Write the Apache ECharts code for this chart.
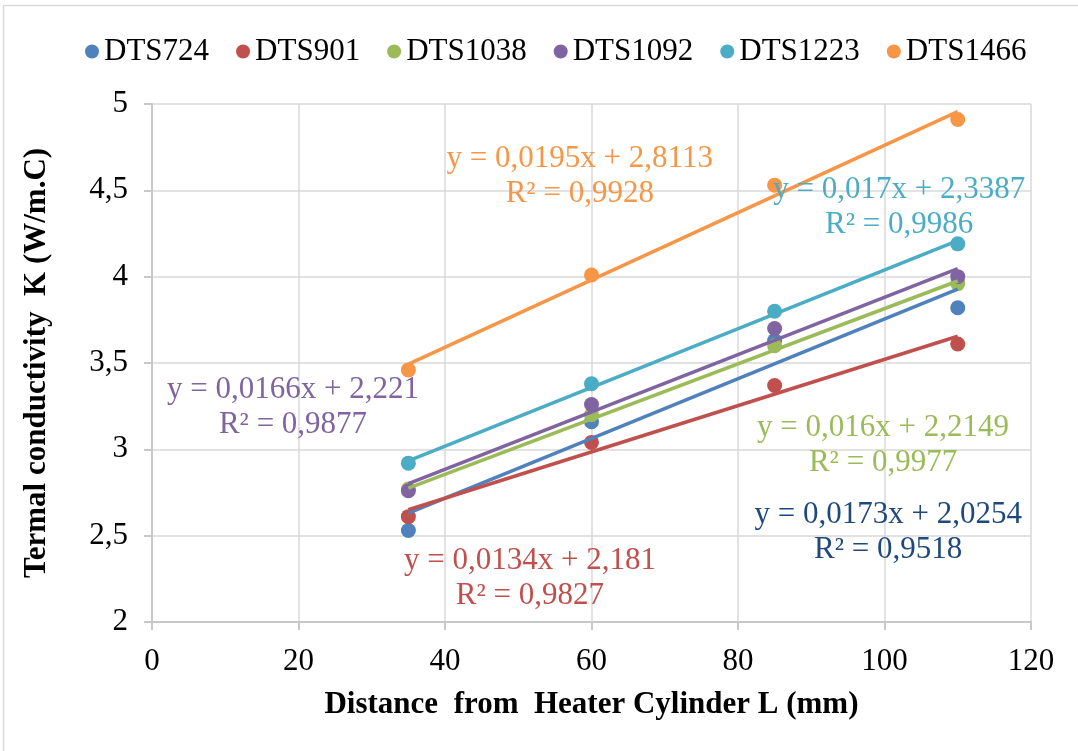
<!DOCTYPE html>
<html>
<head>
<meta charset="utf-8">
<script src="https://cdn.jsdelivr.net/npm/echarts@6/dist/echarts.min.js"></script>
<style>
  html, body { margin: 0; padding: 0; background: #fff; }
  #chart { width: 1078px; height: 751px; }
</style>
</head>
<body>
<div id="chart"></div>
<script>
// distance from heater (mm)
const distances = [35, 60, 85, 110];

const seriesNames = ['DTS724', 'DTS901', 'DTS1038', 'DTS1092', 'DTS1223', 'DTS1466'];
const dts724 = [2.53, 3.16, 3.63, 3.82];
const dts901 = [2.61, 3.04, 3.37, 3.61];
const dts1038 = [2.77, 3.20, 3.60, 3.96];
const dts1092 = [2.76, 3.26, 3.70, 4.00];
const dts1223 = [2.92, 3.38, 3.80, 4.19];
const dts1466 = [3.46, 4.01, 4.53, 4.91];

// linear trendlines as printed on the chart
const slopes = [0.0173, 0.0134, 0.016, 0.0166, 0.017, 0.0195];
const intercepts = [2.0254, 2.181, 2.2149, 2.221, 2.3387, 2.8113];
const eqTexts = [
    'y = 0,0173x + 2,0254', 'y = 0,0134x + 2,181', 'y = 0,016x + 2,2149',
    'y = 0,0166x + 2,221', 'y = 0,017x + 2,3387', 'y = 0,0195x + 2,8113'
];
const r2Texts = ['R² = 0,9518', 'R² = 0,9827', 'R² = 0,9977', 'R² = 0,9877', 'R² = 0,9986', 'R² = 0,9928'];
// where each equation block sits, in data units (x, y)
const eqAnchors = [[100.5, 2.518], [51.6, 2.255], [99.8, 3.022], [19.25, 3.245], [102.0, 4.403], [58.4, 4.58]];

const xTicks = [0, 20, 40, 60, 80, 100, 120];
const yTicks = [2, 2.5, 3, 3.5, 4, 4.5, 5];

const colors = ['#4F81BD', '#C0504D', '#9BBB59', '#8064A2', '#4BACC6', '#F79646'];
const labelColors = ['#1F497D', '#C0504D', '#9BBB59', '#8064A2', '#4BACC6', '#F79646'];
const font = 'Liberation Serif';

const allValues = [dts724, dts901, dts1038, dts1092, dts1223, dts1466];

let series = [];
allValues.forEach((vals, i) => {
    series.push({
        name: seriesNames[i],
        type: 'scatter',
        symbol: 'circle',
        symbolSize: 15,
        itemStyle: { color: colors[i], opacity: 1 },
        z: 2,
        data: distances.map((d, k) => [d, vals[k]])
    });
});
allValues.forEach((vals, i) => {
    let x0 = distances[0], x1 = distances[distances.length - 1];
    series.push({
        name: seriesNames[i] + ' trend',
        type: 'line',
        showSymbol: false,
        symbol: 'none',
        silent: true,
        lineStyle: { color: colors[i], width: 3.5 },
        z: 3,
        data: [[x0, slopes[i] * x0 + intercepts[i]], [x1, slopes[i] * x1 + intercepts[i]]]
    });
});

const chart = echarts.init(document.getElementById('chart'));
chart.setOption({
    animation: false,
    textStyle: { fontFamily: font },
    legend: {
        show: true,
        data: seriesNames,
        icon: 'circle',
        left: 80,
        top: 31,
        itemWidth: 14,
        itemHeight: 14,
        itemGap: 27,
        textStyle: {
            fontFamily: '"Liberation Serif", "Times New Roman", serif',
            fontStyle: 'normal', fontWeight: 'normal', fontSize: 31, color: '#000'
        }
    },
    grid: { left: 152, right: 47, top: 104, bottom: 129 },
    xAxis: {
        type: 'value',
        min: xTicks[0],
        max: xTicks[xTicks.length - 1],
        interval: 20,
        name: 'Distance  from  Heater Cylinder L (mm)',
        nameLocation: 'middle',
        nameGap: 67,
        nameTextStyle: { fontFamily: font, fontSize: 31, fontWeight: 'bold', color: '#000' },
        axisLine: { show: true, lineStyle: { color: '#c8c8c8', width: 2 } },
        axisTick: { show: true, length: 8, lineStyle: { color: '#c8c8c8', width: 2 } },
        axisLabel: { margin: 24, fontFamily: font, fontSize: 31, color: '#000' },
        splitLine: { show: true, lineStyle: { color: '#d9d9d9', width: 1.5 } }
    },
    yAxis: {
        type: 'value',
        min: yTicks[0],
        max: yTicks[yTicks.length - 1],
        interval: 0.5,
        name: 'Termal conductivity  K (W/m.C)',
        nameLocation: 'middle',
        nameGap: 100,
        nameTextStyle: { fontFamily: font, fontSize: 31, fontWeight: 'bold', color: '#000' },
        axisLine: { show: true, lineStyle: { color: '#c8c8c8', width: 2 } },
        axisTick: { show: true, length: 8, lineStyle: { color: '#c8c8c8', width: 2 } },
        axisLabel: {
            margin: 24, fontFamily: font, fontSize: 31, color: '#000',
            formatter: v => String(v).replace('.', ',')
        },
        splitLine: { show: true, lineStyle: { color: '#d9d9d9', width: 1.5 } }
    },
    series: series
});

// equation labels placed from data coordinates
let graphics = [{
    type: 'rect',
    shape: { x: 3.5, y: 5.5, width: 1080, height: 760 },
    style: { fill: 'none', stroke: '#d9d9d9', lineWidth: 1.5 },
    silent: true
}];
eqAnchors.forEach((a, i) => {
    let p = chart.convertToPixel({ gridIndex: 0 }, a);
    graphics.push({
        type: 'text',
        x: p[0],
        y: p[1],
        z: 10,
        style: {
            text: eqTexts[i] + '\n' + r2Texts[i],
            fill: labelColors[i],
            font: '31px ' + font,
            lineHeight: 35,
            align: 'center',
            verticalAlign: 'middle'
        }
    });
});
chart.setOption({ graphic: graphics });
</script>
</body>
</html>
